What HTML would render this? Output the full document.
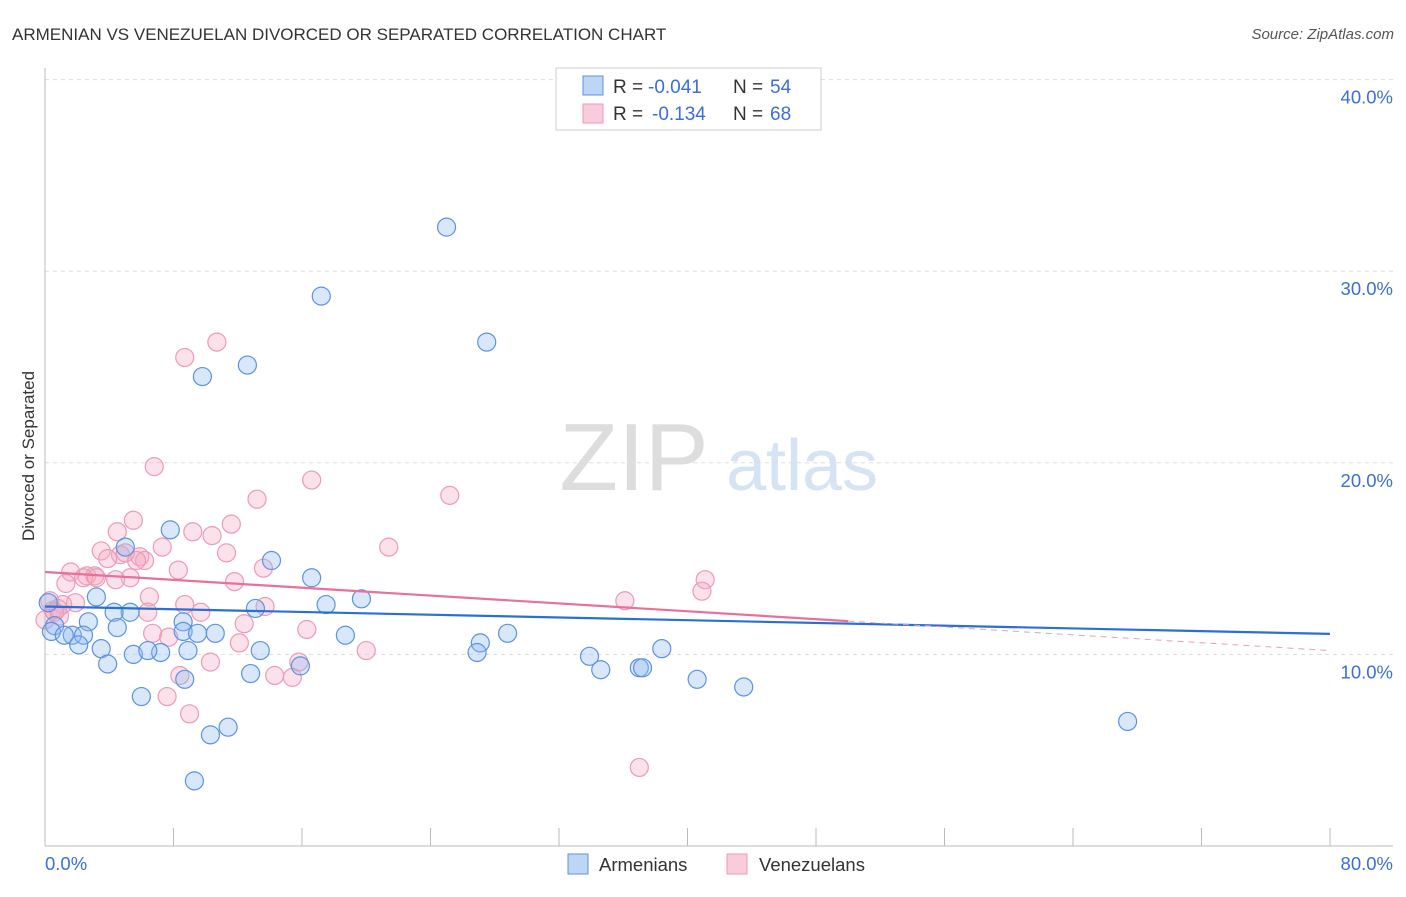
<!DOCTYPE html>
<html><head><meta charset="utf-8"><style>
body{margin:0;background:#fff;font-family:"Liberation Sans",sans-serif;}
svg text{font-family:"Liberation Sans",sans-serif;}
</style></head><body>
<svg id="c" width="1406" height="892">
<text x="12" y="40" font-size="17" fill="#333">ARMENIAN VS VENEZUELAN DIVORCED OR SEPARATED CORRELATION CHART</text>
<text x="1394" y="39" font-size="15" fill="#555" text-anchor="end" font-style="italic">Source: ZipAtlas.com</text>
<text x="34" y="456" font-size="17" fill="#333" text-anchor="middle" transform="rotate(-90 34 456)">Divorced or Separated</text>
<g><text x="634" y="490" font-size="96" fill="#ddd" text-anchor="middle" font-family="Liberation Serif">ZIP</text><text x="802" y="490" font-size="72" fill="#d5e3f5" text-anchor="middle">atlas</text></g>
<g id="grid"></g><g id="axes"></g><g id="pts"></g><g id="trend"></g>
<g>
<rect x="556" y="68" width="265" height="62" fill="#fff" stroke="#ccc"/>
<rect x="583" y="76" width="20" height="19" fill="rgba(147,187,240,0.6)" stroke="#5b93e0"/>
<rect x="583" y="104" width="20" height="19" fill="rgba(244,170,195,0.6)" stroke="#ec9ab5"/>
<text x="613" y="93" font-size="19" fill="#333">R =</text>
<text x="648" y="93" font-size="19" fill="#3a6fd8">-0.041</text>
<text x="733" y="93" font-size="19" fill="#333">N =</text>
<text x="770" y="93" font-size="19" fill="#3a6fd8">54</text>
<text x="613" y="120" font-size="19" fill="#333">R =</text>
<text x="652" y="120" font-size="19" fill="#3a6fd8">-0.134</text>
<text x="733" y="120" font-size="19" fill="#333">N =</text>
<text x="770" y="120" font-size="19" fill="#3a6fd8">68</text>
</g>
<g>
<rect x="568" y="854" width="20" height="20" fill="rgba(147,187,240,0.6)" stroke="#5b93e0"/>
<text x="599" y="871" font-size="18.5" fill="#333">Armenians</text>
<rect x="727" y="854" width="20" height="20" fill="rgba(244,170,195,0.6)" stroke="#ec9ab5"/>
<text x="759" y="871" font-size="18.5" fill="#333">Venezuelans</text>
</g>
</svg>
<script>
const yTicks=[10,20,30,40];
const yTickLabels=["10.0%","20.0%","30.0%","40.0%"];
const xTicks=[0,8,16,24,32,40,48,56,64,72,80];
const armX=[25.0,17.2,27.5,12.6,9.8,7.8,5.0,14.1,16.6,3.2,19.7,17.5,0.2,13.1,5.3,4.3,8.6,2.7,4.5,0.6,8.6,28.8,10.6,9.5,0.4,1.7,2.4,1.2,18.7,27.1,2.1,3.5,5.5,7.2,8.9,6.4,13.4,26.9,38.4,33.9,3.9,15.9,37.0,37.2,12.8,34.6,8.7,40.6,43.5,6.0,11.4,10.3,67.4,9.3];
const armY=[32.3,28.7,26.3,25.1,24.5,16.5,15.6,14.9,14.0,13.0,12.9,12.6,12.7,12.4,12.2,12.2,11.7,11.7,11.4,11.5,11.2,11.1,11.1,11.1,11.2,11.0,11.0,11.0,11.0,10.6,10.5,10.3,10.0,10.1,10.2,10.2,10.2,10.1,10.3,9.9,9.5,9.4,9.3,9.3,9.0,9.2,8.7,8.7,8.3,7.8,6.2,5.8,6.5,3.4];
const venX=[10.7,8.7,6.8,16.6,25.2,13.2,5.5,11.6,4.5,9.2,10.4,21.4,7.3,3.5,4.7,5.9,11.3,3.9,6.2,5.7,5.0,8.3,13.6,1.6,2.6,3.1,2.4,5.3,4.4,11.8,41.1,1.3,3.2,40.9,6.5,36.1,1.9,8.7,1.1,0.5,0.8,6.4,9.7,13.7,0.0,12.4,16.3,6.7,7.7,12.1,20.0,15.8,10.3,8.4,14.3,15.4,7.6,9.0,37.0,0.6,0.9,0.3];
const venY=[26.3,25.5,19.8,19.1,18.3,18.1,17.0,16.8,16.4,16.4,16.2,15.6,15.6,15.4,15.2,15.1,15.3,15.0,14.9,14.9,15.3,14.4,14.5,14.3,14.1,14.1,14.0,14.0,13.9,13.8,13.9,13.7,14.0,13.3,13.0,12.8,12.7,12.6,12.6,12.3,12.4,12.2,12.2,12.5,11.8,11.6,11.3,11.1,10.9,10.6,10.2,9.6,9.6,8.9,8.9,8.8,7.8,6.9,4.1,12.2,12.0,12.8];
const armTrend=[12.5,11.07];
const venTrend=[14.3,10.2];
const X=v=>45+v/80*1285, Y=v=>846-v*19.16;
const NS="http://www.w3.org/2000/svg";
function mk(t,a,p){const e=document.createElementNS(NS,t);for(const k in a)e.setAttribute(k,a[k]);p.appendChild(e);return e;}
const grid=document.getElementById('grid'),axes=document.getElementById('axes'),pts=document.getElementById('pts'),tr=document.getElementById('trend');
yTicks.forEach((t,i)=>{
 const l=mk('line',{x1:45,x2:1393,y1:Y(t),y2:Y(t),stroke:'#ddd','stroke-dasharray':'4,4'},grid);
 
 
 const tx=mk('text',{x:1393,y:Y(t)+24,'font-size':18.5,fill:'#3a6fd8','text-anchor':'end'},grid);
 tx.textContent=yTickLabels[i];
 
 
});
const ya=mk('line',{x1:45,x2:45,y1:68,y2:846,stroke:'#bbb'},axes);


const xa=mk('line',{x1:45,x2:1393,y1:846,y2:846,stroke:'#bbb'},axes);


xTicks.forEach(t=>{const l=mk('line',{x1:X(t),x2:X(t),y1:828,y2:846,stroke:'#bbb'},axes);
 
 });
const x0=mk('text',{x:45,y:870,'font-size':18.5,fill:'#3a6fd8'},axes);x0.textContent='0.0%';


const x1=mk('text',{x:1393,y:870,'font-size':18.5,fill:'#3a6fd8','text-anchor':'end'},axes);x1.textContent='80.0%';


venX.forEach((v,i)=>{const c=mk('circle',{cx:X(v),cy:Y(venY[i]),r:9,fill:'rgba(244,170,195,0.35)',stroke:'#ec9ab5','stroke-width':1.2},pts);
 
 });
armX.forEach((v,i)=>{const c=mk('circle',{cx:X(v),cy:Y(armY[i]),r:9,fill:'rgba(147,187,240,0.35)',stroke:'#5b93e0','stroke-width':1.2},pts);
 
 });
const vAt=x=>venTrend[0]+(venTrend[1]-venTrend[0])*x/80;
const l1=mk('line',{x1:X(0),y1:Y(armTrend[0]),x2:X(80),y2:Y(armTrend[1]),stroke:'#2a6fd6','stroke-width':2.2},tr);


const l2=mk('line',{x1:X(0),y1:Y(vAt(0)),x2:X(50),y2:Y(vAt(50)),stroke:'#e8709a','stroke-width':2.2},tr);


const l3=mk('line',{x1:X(50),y1:Y(vAt(50)),x2:X(80),y2:Y(vAt(80)),stroke:'#e8a0b8','stroke-width':1,'stroke-dasharray':'6,5'},tr);


</script>
</body></html>
